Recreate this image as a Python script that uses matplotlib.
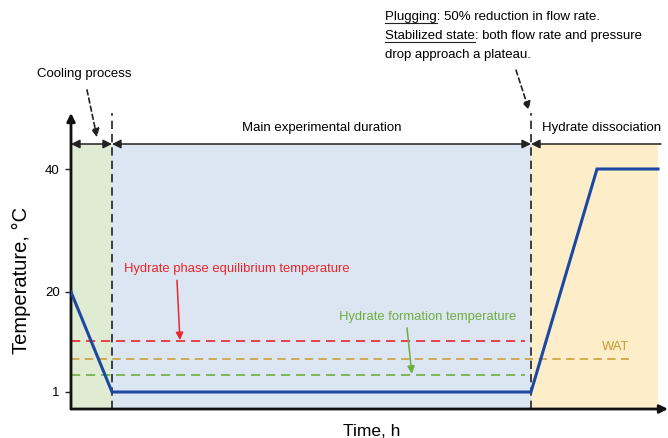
import numpy as np
import matplotlib.pyplot as plt

plt.rcParams["font.family"] = ["Liberation Sans", "DejaVu Sans"]

# ----------------------------
# Schematic data
# ----------------------------
# time axis is schematic (arbitrary hours)
time_pts = [0.0, 4.1, 46.0, 52.6, 58.7]
temp_pts = [20, 1, 1, 40, 40]

# stage boundaries: cooling | main run | dissociation
stage_edges = [0.0, 4.1, 46.0, 58.7]
stage_names = ["Cooling process", "Main experimental duration", "Hydrate dissociation"]
stage_colors = ["#e0ebd3", "#dce6f2", "#fdeec9"]

T_EQ = 10.6     # hydrate phase equilibrium temperature
T_WAT = 7.3     # wax appearance temperature
T_FORM = 4.2    # hydrate formation temperature

yticks = [1, 20, 40]

# non-uniform (schematic) temperature axis
T_KNOTS = [-100, 1, 20, 40, 200]
P_KNOTS = [17 - 101 * 100 / 19, 17, 117, 240, 240 + 160 * 6.15]


def fwd(t):
    return np.interp(t, T_KNOTS, P_KNOTS)


def inv(p):
    return np.interp(p, P_KNOTS, T_KNOTS)


fig = plt.figure(figsize=(6.68, 4.38), dpi=100)
ax = fig.add_axes([71 / 668, 29 / 438, 597 / 668, 296 / 438])
ax.set_yscale("function", functions=(fwd, inv))
ax.set_xlim(0, 59.7)
ax.set_ylim(inv(0), inv(296))

top_band = (409 - 144) / 296  # height of shaded bands / stage arrows
xfrac = ("data", "axes fraction")

# shaded stages
for i in range(3):
    ax.axvspan(stage_edges[i], stage_edges[i + 1], ymin=0, ymax=top_band,
               color=stage_colors[i], lw=0, zorder=0)

# stage boundaries
for xb in stage_edges[1:3]:
    ax.axvline(xb, ymin=0, ymax=1, color="#222222", lw=1.2,
               linestyle=(0, (5, 3)), zorder=3, clip_on=False)

# stage arrows along the top
for i in range(3):
    x0, x1 = stage_edges[i], stage_edges[i + 1]
    style = "<|-|>" if i < 2 else "<|-"
    if i == 2:
        x1 = 59.0
    ax.annotate("", xy=(x1, top_band), xytext=(x0, top_band),
                xycoords=xfrac, textcoords=xfrac,
                arrowprops=dict(arrowstyle=style, color="#222222", lw=1.1,
                                mutation_scale=13, shrinkA=0, shrinkB=0))

ax.text((stage_edges[1] + stage_edges[2]) / 2, top_band + 0.035, stage_names[1],
        transform=ax.get_xaxis_transform(), ha="center", va="bottom", fontsize=9.5)
ax.text(53.1, top_band + 0.035, stage_names[2],
        transform=ax.get_xaxis_transform(), ha="center", va="bottom", fontsize=9.5)

# temperature thresholds
ax.plot([0, 45.4], [T_EQ, T_EQ], color="#e8262b", lw=1.2, linestyle=(0, (5.5, 3.5)), zorder=2)
ax.plot([0, 55.8], [T_WAT, T_WAT], color="#c99a30", lw=1.1, linestyle=(0, (5.5, 3.5)), zorder=2)
ax.plot([0, 45.4], [T_FORM, T_FORM], color="#6eae40", lw=1.2, linestyle=(0, (5.5, 3.5)), zorder=2)

# temperature profile
ax.plot(time_pts, temp_pts, color="#1b48a3", lw=2.2, zorder=4, solid_joinstyle="miter")

# labels for thresholds
ax.text(5.3, 23.7, "Hydrate phase equilibrium temperature", color="#e8262b",
        fontsize=9.4, ha="left", va="center")
ax.annotate("", xy=(10.9, T_EQ), xytext=(10.6, 21.9),
            arrowprops=dict(arrowstyle="-|>", color="#e8262b", lw=1.1, mutation_scale=11,
                            shrinkA=0, shrinkB=1))
ax.text(35.7, 15.3, "Hydrate formation temperature", color="#6eae40",
        fontsize=9.4, ha="center", va="center")
ax.annotate("", xy=(34.1, T_FORM), xytext=(33.6, 13.2),
            arrowprops=dict(arrowstyle="-|>", color="#6eae40", lw=1.1, mutation_scale=11,
                            shrinkA=0, shrinkB=1))
ax.text(53.1, 9.6, "WAT", color="#c89a30", fontsize=9.4, ha="left", va="center")

# callouts above the plot
ax.text(1.35, 1.132, stage_names[0], transform=ax.get_xaxis_transform(),
        fontsize=9.5, ha="center", va="center")
ax.annotate("", xy=(2.6, 0.918), xytext=(1.6, 1.078),
            xycoords=xfrac, textcoords=xfrac,
            arrowprops=dict(arrowstyle="-|>", color="#222222", lw=1.2, linestyle=(0, (3, 2)),
                            mutation_scale=12, shrinkA=0, shrinkB=0))
ax.annotate("", xy=(45.8, 1.01), xytext=(44.5, 1.145),
            xycoords=xfrac, textcoords=xfrac,
            arrowprops=dict(arrowstyle="-|>", color="#222222", lw=1.2, linestyle=(0, (3, 2)),
                            mutation_scale=12, shrinkA=0, shrinkB=0))
note_lines = ["Plugging: 50% reduction in flow rate.",
              "Stabilized state: both flow rate and pressure",
              "drop approach a plateau."]
for line, ypx in zip(note_lines, [17, 36, 55]):
    fig.text(385 / 668, 1 - ypx / 438, line, fontsize=9.5, va="center", ha="left")

# underline the two key words
fig.canvas.draw()
r = fig.canvas.get_renderer()
for word, ypx in [("Plugging", 17), ("Stabilized state", 36)]:
    t = fig.text(385 / 668, 1 - ypx / 438, word, fontsize=9.5, va="center", ha="left", alpha=0)
    bb = t.get_window_extent(renderer=r)
    fig.add_artist(plt.Line2D([bb.x0 / 668, bb.x1 / 668],
                              [(bb.y0 + 0.5) / 438, (bb.y0 + 0.5) / 438],
                              transform=fig.transFigure, color="#222222", lw=0.8))

# axes with arrows
for s in ax.spines.values():
    s.set_visible(False)
ax.annotate("", xy=(0, 1), xytext=(0, 0), xycoords="axes fraction",
            arrowprops=dict(arrowstyle="-|>", color="#111111", lw=2.0, mutation_scale=12,
                            shrinkA=0, shrinkB=0))
ax.annotate("", xy=(1, 0), xytext=(0, 0), xycoords="axes fraction",
            arrowprops=dict(arrowstyle="-|>", color="#111111", lw=2.0, mutation_scale=12,
                            shrinkA=0, shrinkB=0))

ax.set_xticks([])
ax.set_yticks(yticks)
ax.set_yticklabels([str(v) for v in yticks], fontsize=9.5)
ax.tick_params(axis="y", direction="out", length=4, width=1, color="#222222", pad=4)
ax.minorticks_off()

ax.set_ylabel("Temperature, \u00b0C", fontsize=14.5)
ax.yaxis.set_label_coords(-40 / 597, (409 - 280) / 296)
ax.set_xlabel("Time, h", fontsize=12.5)
ax.xaxis.set_label_coords((372 - 71) / 597, -15 / 296)

fig.savefig("out.png", dpi=100)
